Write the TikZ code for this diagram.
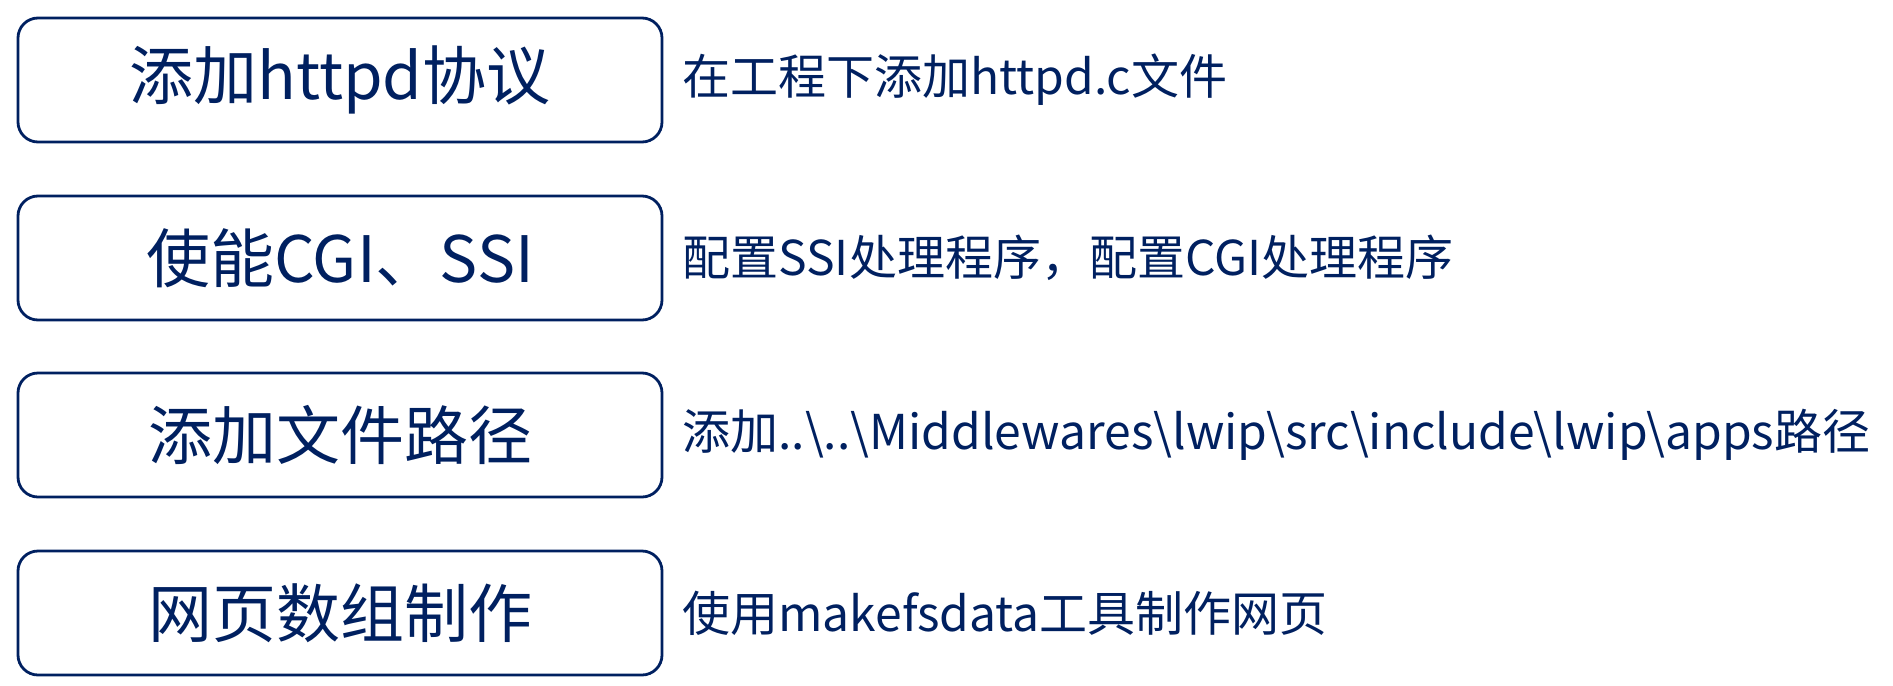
\documentclass[tikz,border=0pt]{standalone}
\usepackage{fontspec}
\setmainfont{Noto Sans CJK SC}
\newfontfamily\cjk{Noto Sans CJK SC}
\definecolor{navy}{RGB}{0,32,96}
\begin{document}
\begin{tikzpicture}[x=0.5pt,y=-0.5pt,
  stepbox/.style={draw=navy,line width=1.4pt,rounded corners=10pt,minimum width=322pt,minimum height=62pt,text=navy,font=\cjk\fontsize{32}{38}\selectfont,inner sep=0pt},
  desc/.style={anchor=west,text=navy,font=\cjk\fontsize{24}{28}\selectfont,inner sep=0pt}]
\useasboundingbox (0,0) rectangle (1893,685);
\node[stepbox] (b1) at (340,80) {添加httpd协议};
\node[stepbox] (b2) at (340,258) {使能CGI、SSI};
\node[stepbox] (b3) at (340,435) {添加文件路径};
\node[stepbox] (b4) at (340,613) {网页数组制作};
\node[desc] (d1) at (682,80) {在工程下添加httpd.c文件};
\node[desc] (d2) at (682,258) {配置SSI处理程序，配置CGI处理程序};
\node[desc] (d3) at (682,435) {添加..\textbackslash..\textbackslash Middlewares\textbackslash lwip\textbackslash src\textbackslash include\textbackslash lwip\textbackslash apps路径};
\node[desc] (d4) at (682,613) {使用makefsdata工具制作网页};
\end{tikzpicture}
\end{document}
